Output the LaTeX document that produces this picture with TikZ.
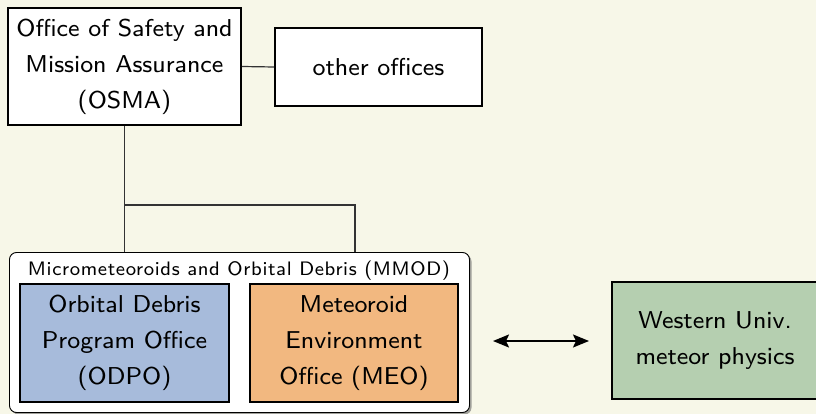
\documentclass[tikz,border=0pt]{standalone}
\usepackage{fontspec}
\newfontfamily\eightss{lmsans8-regular}[Extension=.otf]
\newfontfamily\eightsswide{lmsans8-regular}[Extension=.otf,LetterSpace=3.3]
\usetikzlibrary{arrows.meta,shadows}
\definecolor{bgcol}{RGB}{247,247,232}
\definecolor{odpoblue}{RGB}{167,187,219}
\definecolor{meoorange}{RGB}{242,184,128}
\definecolor{westgreen}{RGB}{181,207,176}
\newcommand{\bigf}{\eightss\fontsize{24.4}{36}\selectfont}
\newcommand{\smallf}{\eightsswide\fontsize{19.5}{20}\selectfont}
\tikzset{
  box/.style={draw=black, line width=1.8pt, align=center, inner sep=0pt, font=\bigf},
  link/.style={draw=black!80, line width=1.2pt},
  container/.style={draw=black, line width=0.9pt, fill=white, rounded corners=7pt,
    drop shadow={shadow xshift=2pt, shadow yshift=-2pt, fill=black!60, opacity=0.6}},
  dblarrow/.style={line width=1.8pt, {Stealth[length=16pt,width=13pt,inset=3pt]}-{Stealth[length=16pt,width=13pt,inset=3pt]}}
}
\begin{document}
\begin{tikzpicture}[x=1pt,y=-1pt]
\useasboundingbox (0,0) rectangle (816,414);
\clip (0,0) rectangle (816,414);
\fill[bgcol] (0,0) rectangle (816,414);

% MMOD container
\node[container, minimum width=460pt, minimum height=160pt, inner sep=0pt] (mmod) at (239.5,332.5) {};
\node[font=\smallf, anchor=center] (mmodtitle) at (239,271) {Micrometeoroids and Orbital Debris (MMOD)};

% boxes
\node[box, fill=white, minimum width=233pt, minimum height=117pt] (osma) at (124.5,66.5)
  {Office of Safety and\\Mission Assurance\\(OSMA)};
\node[box, fill=white, minimum width=207pt, minimum height=78pt] (other) at (378.5,67)
  {other offices};
\node[box, fill=odpoblue, minimum width=209pt, minimum height=118pt] (odpo) at (124.5,343)
  {Orbital Debris\\Program Office\\(ODPO)};
\node[box, fill=meoorange, minimum width=208pt, minimum height=118pt] (meo) at (354,343)
  {Meteoroid\\Environment\\Office (MEO)};
\node[box, fill=westgreen, minimum width=206pt, minimum height=117pt] (west) at (715,340.5)
  {Western Univ.\\meteor physics};

% connectors
\coordinate (branch) at (osma.south |- 0,205);
\coordinate (branchR) at (355,205);
\draw[link] (osma.east) -- (other.west);
\draw[link] (osma.south) -- (osma.south |- mmod.north);
\draw[link] (branch) -- (branchR) -- (branchR |- mmod.north);

\coordinate (arrL) at (493,341);
\coordinate (arrR) at (589,341);
\draw[dblarrow] (arrL) -- (arrR);
\end{tikzpicture}
\end{document}
